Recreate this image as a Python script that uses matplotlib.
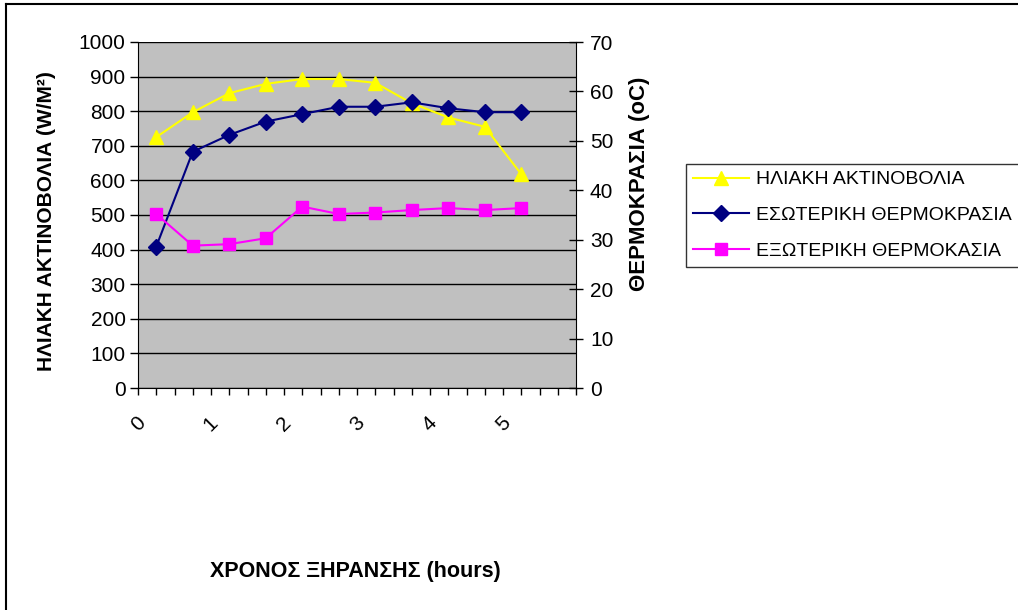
import matplotlib
matplotlib.use("Agg")
import matplotlib.pyplot as plt
from matplotlib.lines import Line2D
from matplotlib.ticker import MultipleLocator

plt.rcParams['font.family'] = ['Liberation Sans', 'DejaVu Sans']

# Data (time in hours)
hours = [0.25, 0.75, 1.25, 1.75, 2.25, 2.75, 3.25, 3.75, 4.25, 4.75, 5.25]
solar = [725, 797, 852, 879, 893, 893, 882, 823, 782, 755, 618]
inner_temp = [28.6, 47.8, 51.2, 53.9, 55.4, 56.9, 56.9, 57.8, 56.6, 55.8, 55.8]
outer_temp = [35.2, 28.8, 29.1, 30.3, 36.7, 35.2, 35.5, 36.0, 36.4, 36.0, 36.4]
xticks = [0, 1, 2, 3, 4, 5]

labels = ['ΗΛΙΑΚΗ ΑΚΤΙΝΟΒΟΛΙΑ', 'ΕΣΩΤΕΡΙΚΗ ΘΕΡΜΟΚΡΑΣΙΑ', 'ΕΞΩΤΕΡΙΚΗ ΘΕΡΜΟΚΑΣΙΑ']

fig = plt.figure(figsize=(10.18, 6.10), dpi=100)
W, H = 1018, 610
ax = fig.add_axes([138 / W, 1 - 388 / H, (576 - 138) / W, (388 - 42) / H])
ax.set_facecolor('#C0C0C0')

ax.plot(hours, solar, color='#FFFF00', lw=1.5, marker='^', ms=10, zorder=3)
ax.set_xlim(0, 6)
ax.set_ylim(0, 1000)
ax.yaxis.set_major_locator(MultipleLocator(100))
ax.set_xticks(xticks)
ax.set_xticklabels([str(t) for t in xticks], rotation=45, ha='center', va='top')
ax.xaxis.set_minor_locator(MultipleLocator(0.25))
ax.tick_params(axis='x', which='both', direction='out', length=5, width=1, pad=13, labelsize=15)
ax.tick_params(axis='y', direction='out', length=6, width=1, labelsize=15, pad=3)
ax.grid(axis='y', color='black', lw=1)
ax.set_axisbelow(True)
ax.spines['top'].set_visible(False)
ax.spines['right'].set_visible(False)
ygl = ax.get_ygridlines()
ygl[-1].set_visible(False)
ygl[0].set_visible(False)

fig.text(47 / W, 1 - 221 / H, 'ΗΛΙΑΚΗ ΑΚΤΙΝΟΒΟΛΙΑ (W/M²)', fontsize=15, fontweight='bold',
         rotation=90, ha='center', va='center')
fig.text(355 / W, 1 - 572 / H, 'ΧΡΟΝΟΣ ΞΗΡΑΝΣΗΣ (hours)', fontsize=15.5, fontweight='bold',
         ha='center', va='center')
fig.text(640 / W, 1 - 184 / H, 'ΘΕΡΜΟΚΡΑΣΙΑ (oC)', fontsize=16, fontweight='bold',
         rotation=90, ha='center', va='center')

ax2 = ax.twinx()
ax2.plot(hours, inner_temp, color='#000080', lw=1.5, marker='D', ms=8, zorder=3)
ax2.plot(hours, outer_temp, color='#FF00FF', lw=1.5, marker='s', ms=8, zorder=3)
ax2.set_ylim(0, 70)
ax2.yaxis.set_major_locator(MultipleLocator(10))
ax2.tick_params(axis='y', direction='inout', length=10, width=1, labelsize=15, pad=5)
ax2.spines['top'].set_visible(False)
ax2.spines['left'].set_visible(False)
ax2.spines['bottom'].set_visible(False)

handles = [
    Line2D([], [], color='#FFFF00', lw=1.5, marker='^', ms=10),
    Line2D([], [], color='#000080', lw=1.5, marker='D', ms=8),
    Line2D([], [], color='#FF00FF', lw=1.5, marker='s', ms=8),
]
leg = fig.legend(handles, labels, loc='upper left', bbox_to_anchor=(686 / W, 1 - 164 / H),
                 bbox_transform=fig.transFigure, fontsize=14, frameon=True, fancybox=False,
                 handlelength=2.9, handletextpad=0.35, labelspacing=0.93, borderpad=0.35,
                 borderaxespad=0)
leg.get_frame().set_edgecolor('black')
leg.get_frame().set_linewidth(1)

# chart-area border (top and left visible)
fig.add_artist(Line2D([6 / W, 1], [1 - 4 / H, 1 - 4 / H], transform=fig.transFigure, color='black', lw=1.5))
fig.add_artist(Line2D([6 / W, 6 / W], [0, 1 - 4 / H], transform=fig.transFigure, color='black', lw=1.5))

fig.savefig('out.png', dpi=100)
